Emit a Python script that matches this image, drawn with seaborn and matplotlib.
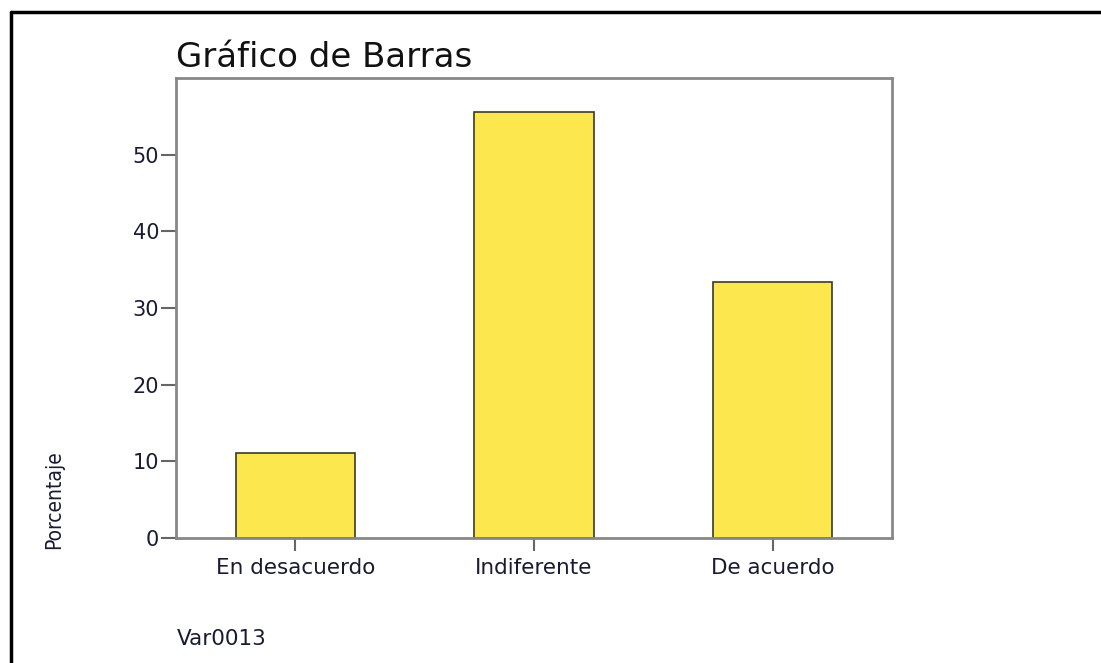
import matplotlib
matplotlib.use("Agg")
import matplotlib.pyplot as plt
import seaborn as sns
import pandas as pd
from matplotlib.lines import Line2D

# Data
categorias = ["En desacuerdo", "Indiferente", "De acuerdo"]
porcentajes = [11.11, 55.56, 33.33]
y_ticks = [0, 10, 20, 30, 40, 50]

df = pd.DataFrame({"Var0013": categorias, "Porcentaje": porcentajes})

sns.set_style("white")
plt.rcParams['font.family'] = ['DejaVu Sans']

fig = plt.figure(figsize=(11.01, 6.63), dpi=100)
ax = fig.add_axes([176/1101, 1 - 538/663, (892-176)/1101, (538-78)/663])

sns.barplot(data=df, x="Var0013", y="Porcentaje", ax=ax, width=0.5,
            color="#FCE74F", saturation=1, edgecolor="#3a3a2a", linewidth=1.2)

ax.set_xlim(-0.5, 2.5)
ax.set_ylim(0, 60)
ax.set_yticks(y_ticks)
ax.set_xlabel("")
ax.set_ylabel("")

for s in ax.spines.values():
    s.set_color("#888888")
    s.set_linewidth(2)

txt = "#1a1a33"
ax.tick_params(axis="y", direction="out", length=11, width=1.5, color="#666666",
               labelsize=15, labelcolor=txt, pad=1, left=True)
ax.tick_params(axis="x", direction="out", length=9.5, width=1.5, color="#666666",
               labelsize=15.5, labelcolor=txt, pad=5, bottom=True)

fig.text(176/1101, 1 - 67/663, "Gráfico de Barras", fontsize=24.5, color="#111111",
         ha="left", va="baseline")
fig.text(177/1101, 1 - 639/663, "Var0013", fontsize=15.5, color=txt,
         ha="left", va="center")
fig.text(54/1101, 1 - 500/663, "Porcentaje", fontsize=15, rotation=90,
         family=['Liberation Sans Narrow', 'DejaVu Sans'], color=txt,
         ha="center", va="center", fontstretch="condensed")

# outer frame (top and left edges visible)
fig.add_artist(Line2D([11/1101, 1], [1 - 12/663, 1 - 12/663], color="black", lw=2.5,
                      transform=fig.transFigure))
fig.add_artist(Line2D([11/1101, 11/1101], [0, 1 - 12/663], color="black", lw=2.5,
                      transform=fig.transFigure))

fig.savefig("out.png", dpi=100, facecolor="white")
